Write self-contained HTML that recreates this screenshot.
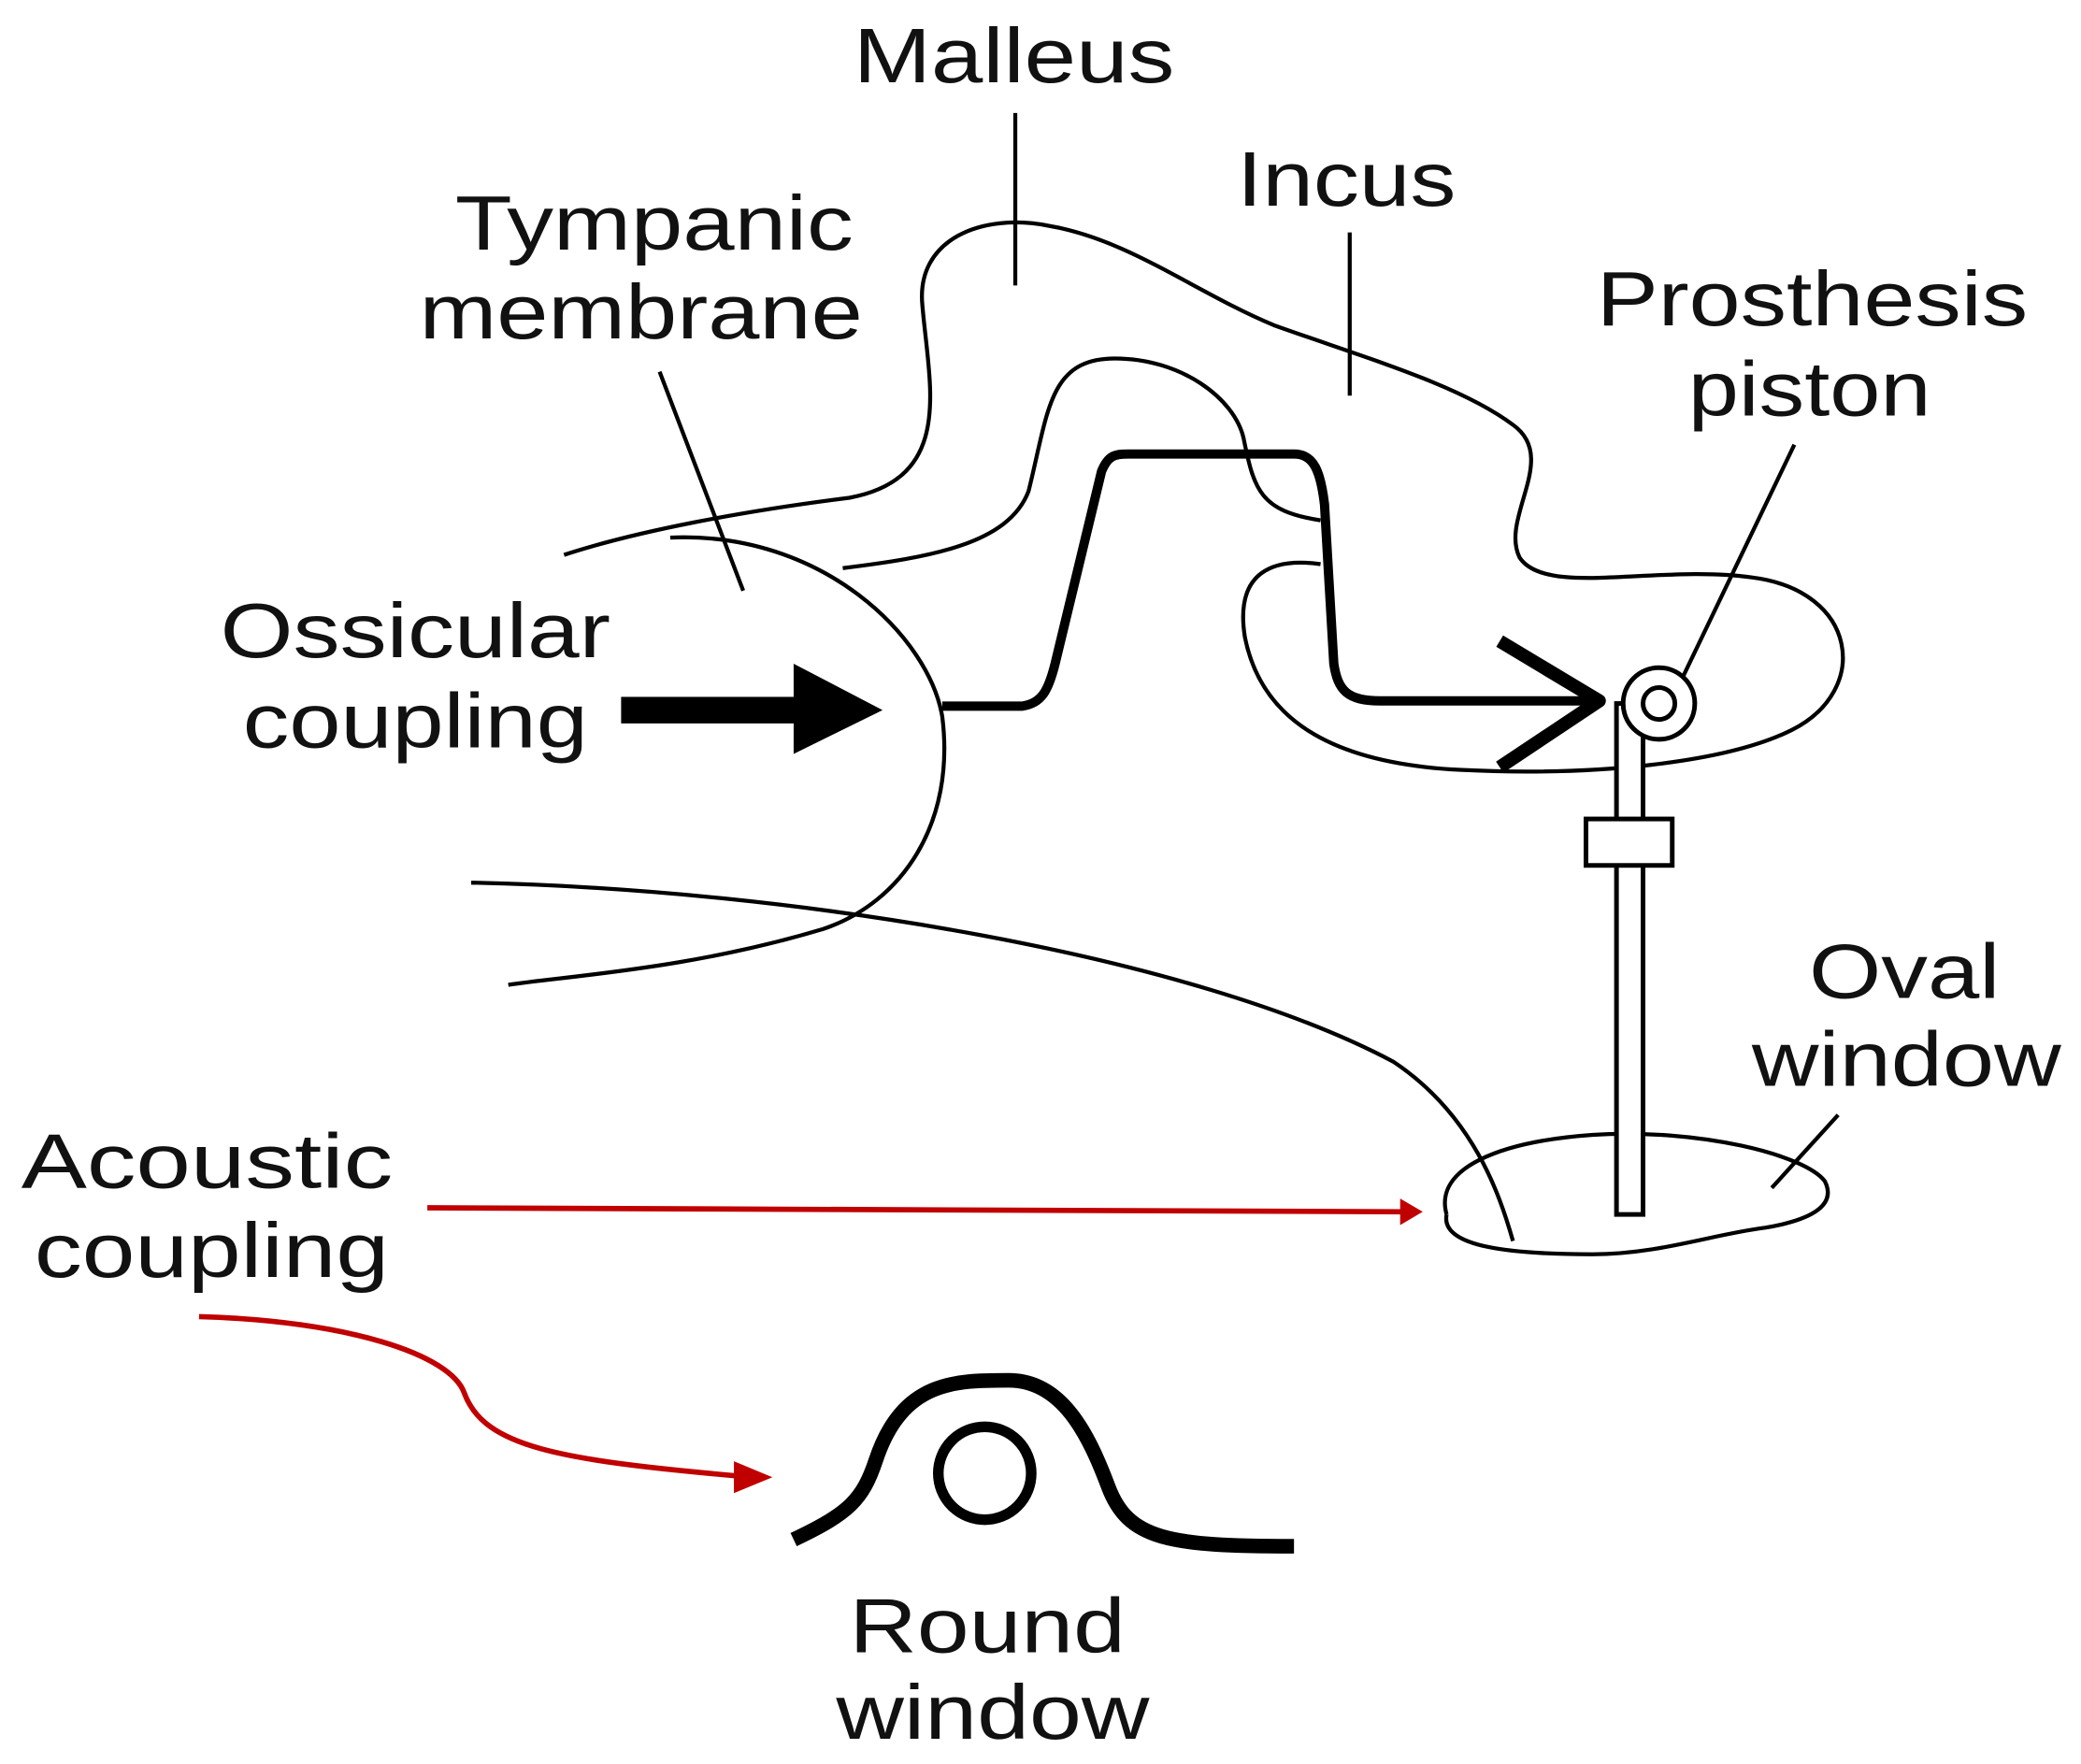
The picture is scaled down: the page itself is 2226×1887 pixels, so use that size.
<!DOCTYPE html>
<html><head><meta charset="utf-8"><style>html,body{margin:0;padding:0;background:#fff}svg{display:block}</style></head>
<body>
<svg width="2226" height="1887" viewBox="0 0 1568 1329" xmlns="http://www.w3.org/2000/svg">
<g font-family="Liberation Sans, Arial, sans-serif" font-size="58" fill="#111" lengthAdjust="spacingAndGlyphs">
<text x="643" y="62" textLength="242" lengthAdjust="spacingAndGlyphs">Malleus</text>
<text x="932" y="155" textLength="165" lengthAdjust="spacingAndGlyphs">Incus</text>
<text x="343" y="188" textLength="300" lengthAdjust="spacingAndGlyphs">Tympanic</text>
<text x="316" y="255" textLength="334" lengthAdjust="spacingAndGlyphs">membrane</text>
<text x="1203" y="245" textLength="325" lengthAdjust="spacingAndGlyphs">Prosthesis</text>
<text x="1272" y="313" textLength="183" lengthAdjust="spacingAndGlyphs">piston</text>
<text x="166" y="495" textLength="294" lengthAdjust="spacingAndGlyphs">Ossicular</text>
<text x="183" y="563" textLength="260" lengthAdjust="spacingAndGlyphs">coupling</text>
<text x="1363" y="752" textLength="144" lengthAdjust="spacingAndGlyphs">Oval</text>
<text x="1320" y="818" textLength="233" lengthAdjust="spacingAndGlyphs">window</text>
<text x="16" y="895" textLength="280" lengthAdjust="spacingAndGlyphs">Acoustic</text>
<text x="26" y="962" textLength="267" lengthAdjust="spacingAndGlyphs">coupling</text>
<text x="640" y="1245" textLength="208" lengthAdjust="spacingAndGlyphs">Round</text>
<text x="630" y="1310" textLength="236" lengthAdjust="spacingAndGlyphs">window</text>
</g>
<g fill="none" stroke="#000" stroke-width="3">
<line x1="765" y1="85" x2="765" y2="215"/>
<line x1="1017" y1="175" x2="1017" y2="298"/>
<line x1="497" y1="280" x2="560" y2="445"/>
<line x1="1352" y1="335" x2="1268" y2="510"/>
<line x1="1385" y1="840" x2="1335" y2="895"/>
<path d="M425,418 C480,400 560,385 640,375 C720,360 700,290 695,230 C690,180 740,160 790,170 C850,180 900,220 960,245 C1030,270 1100,290 1140,320 C1175,345 1130,390 1145,420 C1165,450 1250,425 1320,435 C1400,445 1410,520 1350,550 C1300,575 1200,585 1100,580 C1000,575 950,540 938,480 C930,430 960,420 995,425"/>
<path d="M635,428 C700,420 760,410 775,370 C790,310 790,270 840,270 C890,270 930,300 937,330 C945,370 950,385 995,392"/>
<path d="M505,405 C620,400 700,480 710,540 C720,620 680,680 620,700 C520,730 430,735 383,742"/>
<path d="M355,665 C600,670 900,720 1050,800 C1110,840 1130,900 1140,935"/>
<path d="M1090,915 C1080,880 1130,860 1200,855 C1280,850 1360,870 1375,890 C1385,910 1360,920 1330,925 C1290,930 1250,945 1200,945 C1140,945 1085,940 1090,915"/>
</g>
<g fill="none" stroke="#000" stroke-width="7" stroke-linejoin="round">
<path d="M710,532 L770,532 C785,530 790,520 795,500 L830,355 C835,343 840,342 850,342 L975,342 C990,342 995,355 998,380 L1005,500 C1008,520 1015,528 1040,528 L1205,528"/>
<path d="M1130,483 L1205,528 L1130,578" stroke-width="10"/>
</g>
<rect x="468" y="525" width="135" height="20" fill="#000"/>
<polygon points="598,500 665,535 598,568" fill="#000"/>
<g fill="#fff" stroke="#000" stroke-width="3.5">
<rect x="1218" y="530" width="20" height="385"/>
<rect x="1195" y="617" width="65" height="35"/>
<circle cx="1250" cy="530" r="27"/>
<circle cx="1250" cy="530" r="12"/>
</g>
<g fill="none" stroke="#c00000" stroke-width="4">
<path d="M322,910 L1062,913"/>
<path d="M150,992 C260,995 340,1020 350,1050 C365,1090 420,1100 555,1112"/>
</g>
<polygon points="1072,913 1055,903 1055,923" fill="#c00000"/>
<polygon points="582,1113 553,1101 553,1125" fill="#c00000"/>
<path d="M598,1160 C640,1140 650,1130 660,1100 C680,1040 720,1040 760,1040 C800,1040 820,1080 835,1120 C850,1160 880,1165 975,1165" fill="none" stroke="#000" stroke-width="11"/>
<circle cx="742" cy="1110" r="35" fill="none" stroke="#000" stroke-width="8"/>
</svg>
</body></html>
